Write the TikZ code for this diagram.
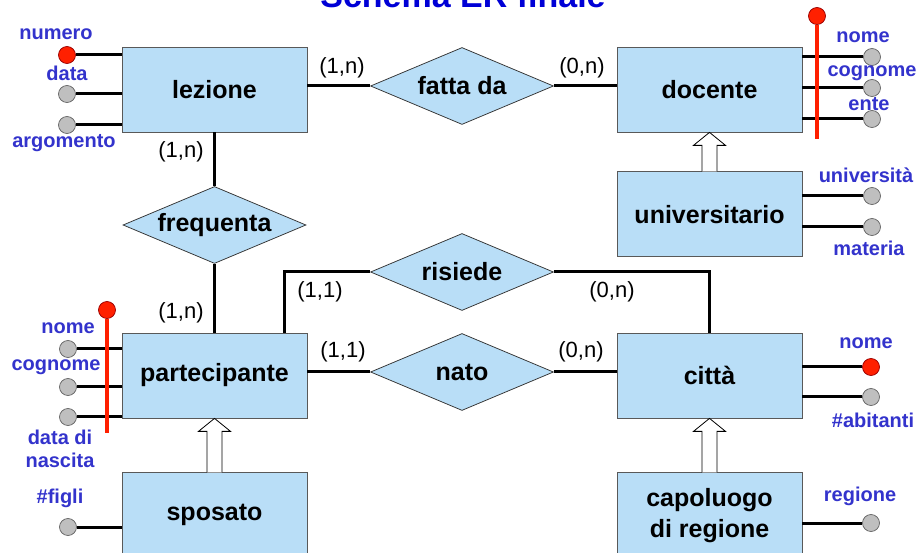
\documentclass[tikz,border=0pt]{standalone}
\usepackage{fontspec}
\setmainfont{Liberation Sans}
\usetikzlibrary{shapes.geometric,positioning,calc}
\definecolor{entityblue}{RGB}{185,222,247}
\definecolor{attrblue}{RGB}{51,51,204}
\definecolor{titleblue}{RGB}{0,0,214}
\definecolor{keyred}{RGB}{255,32,0}
\tikzset{
    every picture/.style={line width=0.75pt},
    entity/.style={rectangle, draw=black!65, fill=entityblue, minimum width=185pt, minimum height=85pt, align=center, font=\fontsize{25}{31}\selectfont\bfseries},
    relation/.style={diamond, draw=black!80, fill=entityblue, inner sep=0pt, aspect=2.4, minimum width=183pt, minimum height=77pt, font=\fontsize{25}{30}\selectfont\bfseries},
    link/.style={line width=3pt},
    card/.style={font=\fontsize{22}{26}\selectfont, inner sep=0pt},
    attr/.style={circle, draw=black!60, fill=black!25, minimum size=17pt, inner sep=0pt},
    keyattr/.style={attr, fill=keyred, draw=red!60!black},
    attrlabel/.style={text=attrblue, align=center, font=\fontsize{20}{23}\selectfont\bfseries, inner sep=0pt},
    keyline/.style={draw=keyred, line width=3.4pt},
    isa/.style={draw=black, fill=white, line width=0.8pt},
}
\newcommand{\isalink}[2]{%
    \draw[isa] ($(#1.north)+(-7.5,0)$) -- ($(#2.south)+(-7.5,13)$) -- ($(#2.south)+(-16,13)$)
        -- (#2.south) -- ($(#2.south)+(16,13)$) -- ($(#2.south)+(7.5,13)$) -- ($(#1.north)+(7.5,0)$);}

\begin{document}
\begin{tikzpicture}[x=1pt,y=-1pt]
    \useasboundingbox (0,0) rectangle (919,553);
    \node[font=\fontsize{34}{40}\selectfont\bfseries, text=titleblue, anchor=base] (title) at (463,8) {Schema ER finale};

    \node[entity] (lezione) at (214.5,89.5) {lezione};
    \node[entity] (docente) at (709.5,89.5) {docente};
    \node[entity, below=39pt of docente] (universitario) {universitario};
    \node[entity] (partecipante) at (214.5,375.5) {partecipante};
    \node[entity, below=54pt of partecipante] (sposato) {sposato};
    \node[entity] (citta) at (709.5,375.5) {città};
    \node[entity, below=54pt of citta] (capoluogo) {capoluogo\\di regione};

    \node[relation] (fattada) at (462,86) {fatta da};
    \node[relation] (frequenta) at (214.5,225) {frequenta};
    \node[relation] (risiede) at (462,272) {risiede};
    \node[relation] (nato) at (462,372) {nato};

    \draw[link] (lezione.east |- fattada) -- (fattada);
    \draw[link] (fattada) -- (docente.west |- fattada);
    \draw[link] (lezione) -- (frequenta);
    \draw[link] (frequenta) -- (partecipante);
    \draw[link] (risiede) -| ($(partecipante.north east)+(-23,0)$);
    \draw[link] (risiede) -| (citta);
    \draw[link] (partecipante.east |- nato) -- (nato);
    \draw[link] (nato) -- (citta.west |- nato);

    \isalink{universitario}{docente}
    \isalink{sposato}{partecipante}
    \isalink{capoluogo}{citta}

    \node[card] (card-lez-fd) at (342,68) {(1,n)};
    \node[card] (card-doc-fd) at (582,68) {(0,n)};
    \node[card] (card-lez-fr) at (181,152) {(1,n)};
    \node[card] (card-par-fr) at (181,313) {(1,n)};
    \node[card] (card-par-ri) at (320,292) {(1,1)};
    \node[card] (card-cit-ri) at (612,292) {(0,n)};
    \node[card] (card-par-na) at (343,352) {(1,1)};
    \node[card] (card-cit-na) at (581,352) {(0,n)};

    \node[keyattr] (lez-numero) at (67,55) {};
    \node[attr] (lez-data) at (67,94) {};
    \node[attr] (lez-argomento) at (67,125) {};
    \foreach \a in {numero,data,argomento}
        \draw[link] (lezione.west |- lez-\a) -- (lez-\a);

    \node[attr] (doc-nome) at (872,57) {};
    \node[attr] (doc-cognome) at (872,88) {};
    \node[attr] (doc-ente) at (872,119) {};
    \foreach \a in {nome,cognome,ente}
        \draw[link] (docente.east |- doc-\a) -- (doc-\a);
    \node[keyattr] (doc-key) at (817,16) {};
    \coordinate (doc-key-end) at (817,139);
    \draw[keyline] (doc-key) -- (doc-key-end);

    \node[attr] (uni-universita) at (872,196) {};
    \node[attr] (uni-materia) at (872,227) {};
    \foreach \a in {universita,materia}
        \draw[link] (universitario.east |- uni-\a) -- (uni-\a);

    \node[attr] (par-nome) at (68,349) {};
    \node[attr] (par-cognome) at (68,387) {};
    \node[attr] (par-nascita) at (68,417) {};
    \foreach \a in {nome,cognome,nascita}
        \draw[link] (partecipante.west |- par-\a) -- (par-\a);
    \node[keyattr] (par-key) at (107,310) {};
    \coordinate (par-key-end) at (107,433);
    \draw[keyline] (par-key) -- (par-key-end);

    \node[attr] (spo-figli) at (68,527) {};
    \draw[link] (sposato.west |- spo-figli) -- (spo-figli);

    \node[keyattr] (cit-nome) at (871,367) {};
    \node[attr] (cit-abitanti) at (871,397) {};
    \foreach \a in {nome,abitanti}
        \draw[link] (citta.east |- cit-\a) -- (cit-\a);

    \node[attr] (cap-regione) at (871,523) {};
    \draw[link] (capoluogo.east |- cap-regione) -- (cap-regione);

    \node[attrlabel] (lab-lez-numero) at (56,34) {numero};
    \node[attrlabel] (lab-lez-data) at (67,73) {data};
    \node[attrlabel] (lab-lez-argomento) at (64,143) {argomento};
    \node[attrlabel] (lab-doc-nome) at (863,37) {nome};
    \node[attrlabel] (lab-doc-cognome) at (872,73) {cognome};
    \node[attrlabel] (lab-doc-ente) at (869,104) {ente};
    \node[attrlabel] (lab-uni-universita) at (866,175) {università};
    \node[attrlabel] (lab-uni-materia) at (869,248) {materia};
    \node[attrlabel] (lab-par-nome) at (68,328) {nome};
    \node[attrlabel] (lab-par-cognome) at (56,367) {cognome};
    \node[attrlabel] (lab-par-nascita) at (60,449) {data di\\nascita};
    \node[attrlabel] (lab-spo-figli) at (60,498) {\#figli};
    \node[attrlabel] (lab-cit-nome) at (866,343) {nome};
    \node[attrlabel] (lab-cit-abitanti) at (873,420) {\#abitanti};
    \node[attrlabel] (lab-cap-regione) at (860,496) {regione};
\end{tikzpicture}
\end{document}
